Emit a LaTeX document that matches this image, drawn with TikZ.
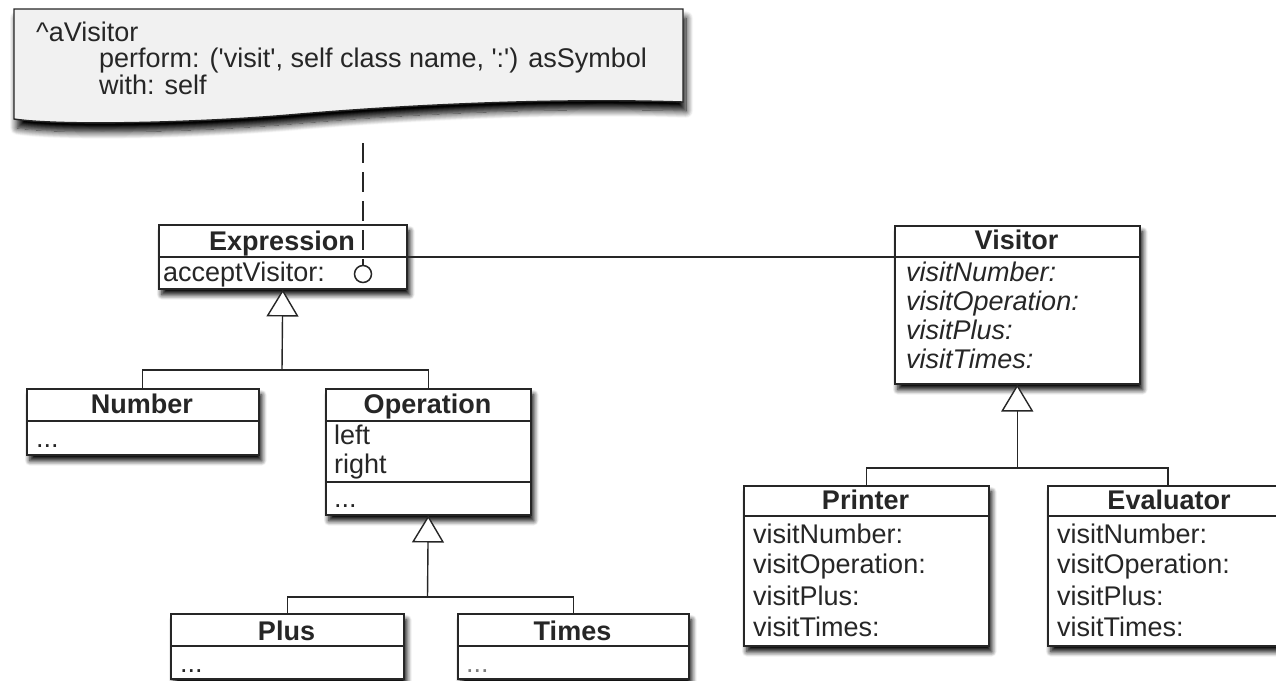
\documentclass[tikz,border=0pt]{standalone}
\usepackage{fontspec}
\setmainfont{Liberation Sans}
\usetikzlibrary{arrows.meta,shadows.blur}
\definecolor{ink}{HTML}{262626}
\definecolor{notefill}{HTML}{F1F1F1}
\tikzset{
  cls/.style={draw=ink, line width=1.5pt, fill=white, rectangle, inner sep=0pt, anchor=north west,
    blur shadow={shadow xshift=3pt, shadow yshift=-6pt, shadow blur steps=8, shadow blur radius=5pt, shadow opacity=100}},
  div/.style={draw=ink, line width=1.3pt},
  title/.style={font=\fontsize{27}{29}\selectfont\bfseries, text=ink, anchor=base, inner sep=0pt},
  item/.style={font=\fontsize{27}{29}\selectfont, text=ink, anchor=base west, inner sep=0pt},
  iitem/.style={font=\fontsize{27}{29}\selectfont\itshape, text=ink, anchor=base west, inner sep=0pt},
  conn/.style={draw=ink, line width=1.4pt},
  gen/.style={conn, -{Triangle[fill=white, width=32pt, length=27pt, line width=1.4pt]}},
}
\newcommand{\sq}{\textquotesingle}
\begin{document}
\begin{tikzpicture}[x=1pt,y=-1pt]
\useasboundingbox (0,0) rectangle (1276,680);
\clip (0,0) rectangle (1276,680);
% note
\path[draw=ink, line width=1.4pt, fill=notefill,
  blur shadow={shadow xshift=3pt, shadow yshift=-9pt, shadow blur steps=10, shadow blur radius=7pt, shadow opacity=100}]
  (14,9) -- (683,9) -- (683,102) .. controls (560,98) and (420,104) .. (300,114)
  .. controls (200,123) and (60,126) .. (14,119) -- cycle;
\node[item] (n1) at (36,41) {\^{}aVisitor};
\node[item] (n2) at (99,67) {perform: (\sq visit\sq, self class name, \sq:\sq) asSymbol};
\node[item] (n3) at (99,94) {with: self};
\coordinate (notetail) at (363,143);

% Expression
\node[cls, minimum width=248pt, minimum height=64pt] (expr) at (158,224) {};
\draw[div] (158,257) -- (406,257);
\node[title] (exprT) at (282,250) {Expression};
\node[item] (exprA) at (163,281) {acceptVisitor:};
\node[circle, draw=ink, line width=1.5pt, minimum size=17pt, inner sep=0pt] (lolli) at (363,274) {};

% Visitor
\node[cls, minimum width=245pt, minimum height=158pt] (visitor) at (894,225) {};
\draw[div] (894,257) -- (1139,257);
\node[title] (visT) at (1016.5,249) {Visitor};
\node[iitem] (v1) at (906,281) {visitNumber:};
\node[iitem] (v2) at (906,310) {visitOperation:};
\node[iitem] (v3) at (906,339) {visitPlus:};
\node[iitem] (v4) at (906,368) {visitTimes:};

% Number
\node[cls, minimum width=232pt, minimum height=66pt] (number) at (26,388) {};
\draw[div] (26,421) -- (258,421);
\node[title] (numT) at (142,413) {Number};
\node[item] (numD) at (36,447) {...};

% Operation
\node[cls, minimum width=205pt, minimum height=126pt] (operation) at (325,388) {};
\draw[div] (325,421) -- (530,421);
\draw[div] (325,482) -- (530,482);
\node[title] (opT) at (427.5,413) {Operation};
\node[item] (opL) at (334,444) {left};
\node[item] (opR) at (334,473) {right};
\node[item] (opD) at (334,507) {...};

% Plus, Times
\node[cls, minimum width=233pt, minimum height=65pt] (plus) at (170,613) {};
\draw[div] (170,646) -- (403,646);
\node[title] (plusT) at (286.5,640) {Plus};
\node[item] (plusD) at (180,672) {...};
\node[cls, minimum width=231pt, minimum height=65pt] (times) at (457,613) {};
\draw[div] (457,646) -- (688,646);
\node[title] (timesT) at (572.5,640) {Times};
\node[item, text=ink!60] (timesD) at (466,672) {...};

% Printer, Evaluator
\node[cls, minimum width=245pt, minimum height=160pt] (printer) at (743,485) {};
\draw[div] (743,516) -- (988,516);
\node[title] (prT) at (865.5,509) {Printer};
\node[item] (p1) at (753,543) {visitNumber:};
\node[item] (p2) at (753,573) {visitOperation:};
\node[item] (p3) at (753,605) {visitPlus:};
\node[item] (p4) at (753,636) {visitTimes:};
\node[cls, minimum width=250pt, minimum height=160pt] (evaluator) at (1047,485) {};
\draw[div] (1047,516) -- (1297,516);
\node[title] (evT) at (1169,509) {Evaluator};
\node[item] (e1) at (1057,543) {visitNumber:};
\node[item] (e2) at (1057,573) {visitOperation:};
\node[item] (e3) at (1057,605) {visitPlus:};
\node[item] (e4) at (1057,636) {visitTimes:};

% connectors
\coordinate (exprline) at (0,257);
\draw[conn] (expr.east |- exprline) -- (visitor.west |- exprline);
\draw[conn, dash pattern=on 20pt off 9pt] (notetail) -- (lolli.north);

\coordinate (j1) at (282,370);
\draw[conn] (number.north) |- (j1) -| (operation.north);
\draw[gen] (j1) -- (expr.south);
\coordinate (j2) at (427.5,597);
\draw[conn] (plus.north) |- (j2) -| (times.north);
\draw[gen] (j2) -- (operation.south);
\coordinate (j3) at (1168,468);
\draw[conn] (printer.north) |- (j3) -| (j3 |- evaluator.north);
\draw[gen] (j3 -| visitor.south) -- (visitor.south);
\end{tikzpicture}
\end{document}
